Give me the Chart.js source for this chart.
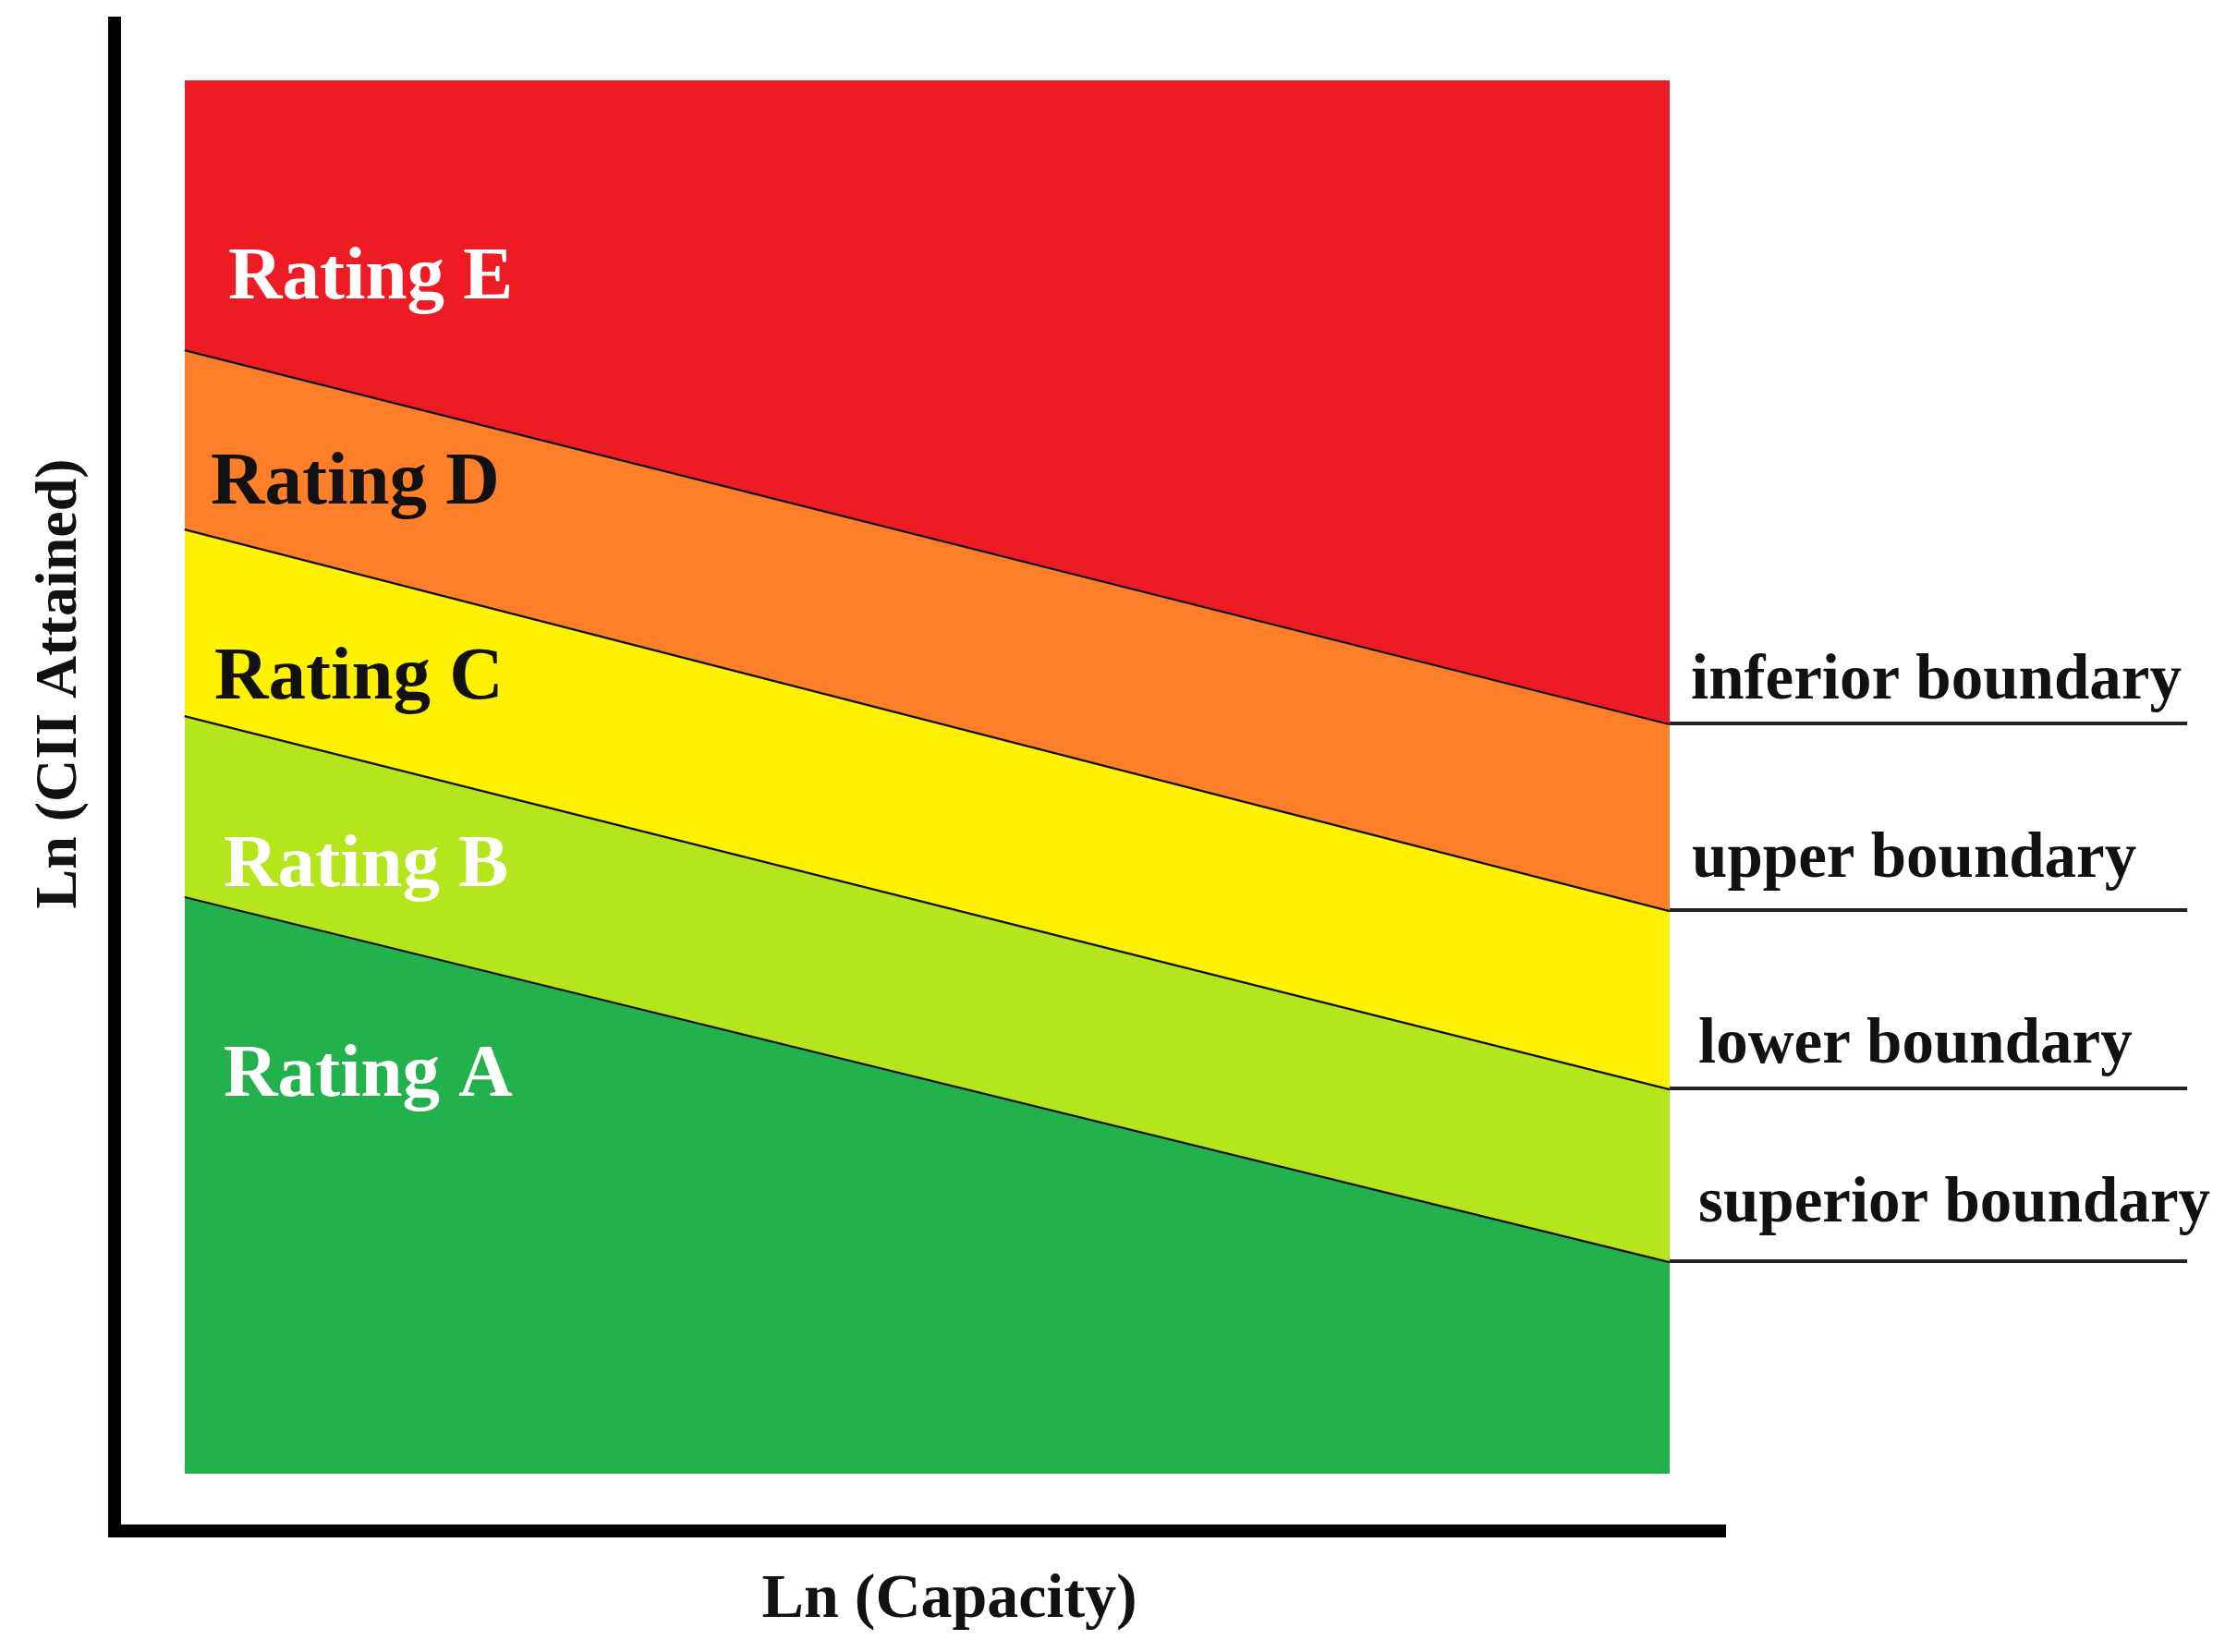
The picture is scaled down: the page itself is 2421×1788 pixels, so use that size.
<!DOCTYPE html>
<html>
<head>
<meta charset="utf-8">
<script src="https://cdn.jsdelivr.net/npm/chart.js@4"></script>
<style>
  html, body { margin: 0; padding: 0; background: #ffffff; }
  #wrap { width: 2421px; height: 1788px; position: relative; }
</style>
</head>
<body>
<div id="wrap"><canvas id="c"></canvas></div>
<script>
// ---- data (arbitrary ln units) ----
const capacity = [0, 1];                       // Ln(Capacity), start and end of the band
const ratingTop = [100, 100];                  // top of rating E band
const inferiorBoundary = [80.7, 53.85];
const upperBoundary = [67.84, 40.45];
const lowerBoundary = [54.44, 27.65];
const superiorBoundary = [41.45, 15.25];
const ratingLabels = ['Rating E', 'Rating D', 'Rating C', 'Rating B', 'Rating A'];
const boundaryLabels = ['inferior boundary', 'upper boundary', 'lower boundary', 'superior boundary'];
const xTitle = 'Ln (Capacity)';
const yTitle = 'Ln (CII Attained)';

// ---- layout / style (not data) ----
const bandColors = ['#ED1C24', '#FE7F29', '#FFF200', '#B5E61D', '#22B14C'];
const ratingTextColors = ['#ffffff', '#111111', '#111111', '#ffffff', '#ffffff'];
const ratingPos = [[0.0292, 84.35], [0.0174, 69.63], [0.0199, 55.64], [0.0261, 42.18], [0.0261, 27.12]];
const boundaryLabelPos = [[1.0143, 55.64], [1.0149, 42.84], [1.0193, 29.51], [1.0193, 18.10]];
const leaderEnd = 1.3485;
const xTitlePos = [0.515, -10.28];
const yTitlePos = [-0.0734, 56.7];
const serif = '"Liberation Serif", "DejaVu Serif", serif';

function pts(ys) { return capacity.map((x, i) => ({ x: x, y: ys[i] })); }

const boundaries = [inferiorBoundary, upperBoundary, lowerBoundary, superiorBoundary];

const datasets = [
  { label: 'Rating E', data: pts(ratingTop), backgroundColor: bandColors[0], fill: '+1', borderWidth: 0, pointRadius: 0 },
  { label: boundaryLabels[0], data: pts(inferiorBoundary), backgroundColor: bandColors[1], fill: '+1', borderColor: '#111', borderWidth: 4.5, pointRadius: 0 },
  { label: boundaryLabels[1], data: pts(upperBoundary), backgroundColor: bandColors[2], fill: '+1', borderColor: '#111', borderWidth: 4.5, pointRadius: 0 },
  { label: boundaryLabels[2], data: pts(lowerBoundary), backgroundColor: bandColors[3], fill: '+1', borderColor: '#111', borderWidth: 4.5, pointRadius: 0 },
  { label: boundaryLabels[3], data: pts(superiorBoundary), backgroundColor: bandColors[4], fill: 'origin', borderColor: '#111', borderWidth: 4.5, pointRadius: 0 }
];
// leader lines from the right end of each boundary
boundaries.forEach((b, i) => {
  const yEnd = b[b.length - 1];
  datasets.push({
    label: 'leader ' + i,
    data: [{ x: capacity[capacity.length - 1], y: yEnd }, { x: leaderEnd, y: yEnd }],
    borderColor: '#222', borderWidth: 4, pointRadius: 0, fill: false, clip: false
  });
});

const textPlugin = {
  id: 'texts',
  afterDatasetsDraw(chart) {
    const ctx = chart.ctx;
    const xs = chart.scales.x, ys = chart.scales.y;
    ctx.save();
    ctx.textBaseline = 'alphabetic';
    ctx.textAlign = 'left';
    ctx.font = 'bold 81px ' + serif;
    ratingLabels.forEach((t, i) => {
      ctx.fillStyle = ratingTextColors[i];
      ctx.fillText(t, xs.getPixelForValue(ratingPos[i][0]), ys.getPixelForValue(ratingPos[i][1]));
    });
    ctx.font = 'bold 69px ' + serif;
    ctx.fillStyle = '#111111';
    boundaryLabels.forEach((t, i) => {
      ctx.fillText(t, xs.getPixelForValue(boundaryLabelPos[i][0]), ys.getPixelForValue(boundaryLabelPos[i][1]));
    });
    ctx.font = 'bold 68px ' + serif;
    ctx.textAlign = 'center';
    ctx.fillText(xTitle, xs.getPixelForValue(xTitlePos[0]), ys.getPixelForValue(xTitlePos[1]));
    ctx.save();
    ctx.translate(xs.getPixelForValue(yTitlePos[0]), ys.getPixelForValue(yTitlePos[1]));
    ctx.rotate(-Math.PI / 2);
    ctx.font = 'bold 64px ' + serif;
    ctx.fillText(yTitle, 0, 0);
    ctx.restore();
    ctx.restore();
  }
};

const axisStyle = {
  display: true,
  ticks: { display: false },
  grid: { display: false, drawTicks: false, tickLength: 0 },
  border: { display: true, color: '#000000', width: 14 },
  title: { display: false }
};

new Chart(document.getElementById('c'), {
  type: 'line',
  data: { datasets: datasets },
  options: {
    responsive: true,
    maintainAspectRatio: false,
    animation: false,
    layout: { padding: { left: 124, top: 25, right: 554, bottom: 131 } },
    plugins: { legend: { display: false }, tooltip: { enabled: false } },
    elements: { line: { tension: 0 } },
    scales: {
      x: Object.assign({ type: 'linear', min: -0.0473, max: 1.0373 }, axisStyle),
      y: Object.assign({ type: 'linear', min: -4.11, max: 104.11 }, axisStyle)
    }
  },
  plugins: [textPlugin]
});
</script>
</body>
</html>
